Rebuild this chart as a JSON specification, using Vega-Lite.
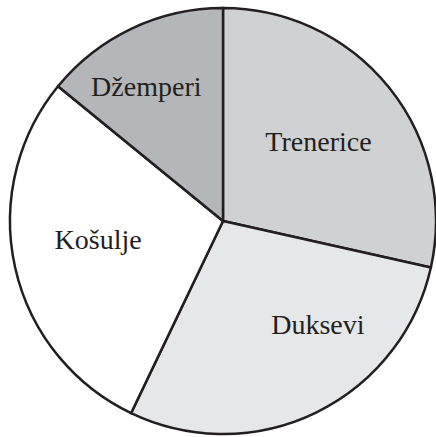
{
  "$schema": "https://vega.github.io/schema/vega-lite/v6.json",
  "width": 426,
  "height": 426,
  "autosize": "none",
  "padding": {"left": 10, "top": 8, "right": 0, "bottom": 3},
  "background": "white",
  "view": {"stroke": null},
  "data": {"values": [
    {"i": 1, "kategorija": "Trenerice", "udio": 28.5},
    {"i": 2, "kategorija": "Duksevi", "udio": 28.6},
    {"i": 3, "kategorija": "Košulje", "udio": 28.8},
    {"i": 4, "kategorija": "Džemperi", "udio": 14.1}
  ]},
  "encoding": {
    "theta": {"field": "udio", "type": "quantitative", "stack": true},
    "order": {"field": "i", "type": "ordinal"}
  },
  "layer": [
    {
      "mark": {"type": "arc", "outerRadius": 213, "stroke": "#231f20", "strokeWidth": 2.5},
      "encoding": {
        "color": {"field": "kategorija", "type": "nominal", "legend": null,
          "scale": {"domain": ["Trenerice", "Duksevi", "Košulje", "Džemperi"],
                    "range": ["#d0d1d3", "#e6e7e8", "#ffffff", "#b5b6b9"]}}
      }
    },
    {
      "mark": {"type": "text", "radius": 130, "dx": -6, "dy": 3, "font": "Liberation Serif", "fontSize": 28, "color": "#231f20"},
      "encoding": {"text": {"condition": {"test": "datum.kategorija == 'Trenerice'", "field": "kategorija"}, "value": ""}}
    },
    {
      "mark": {"type": "text", "radius": 130, "dx": 2, "dy": -8, "font": "Liberation Serif", "fontSize": 28, "color": "#231f20"},
      "encoding": {"text": {"condition": {"test": "datum.kategorija == 'Košulje'", "field": "kategorija"}, "value": ""}}
    },
    {
      "mark": {"type": "text", "radius": 130, "dx": 38, "dy": -12, "font": "Liberation Serif", "fontSize": 28, "color": "#231f20"},
      "encoding": {"text": {"condition": {"test": "datum.kategorija == 'Duksevi'", "field": "kategorija"}, "value": ""}}
    },
    {
      "mark": {"type": "text", "radius": 130, "dx": -21, "dy": -16, "font": "Liberation Serif", "fontSize": 28, "color": "#231f20"},
      "encoding": {"text": {"condition": {"test": "datum.kategorija == 'Džemperi'", "field": "kategorija"}, "value": ""}}
    }
  ]
}
